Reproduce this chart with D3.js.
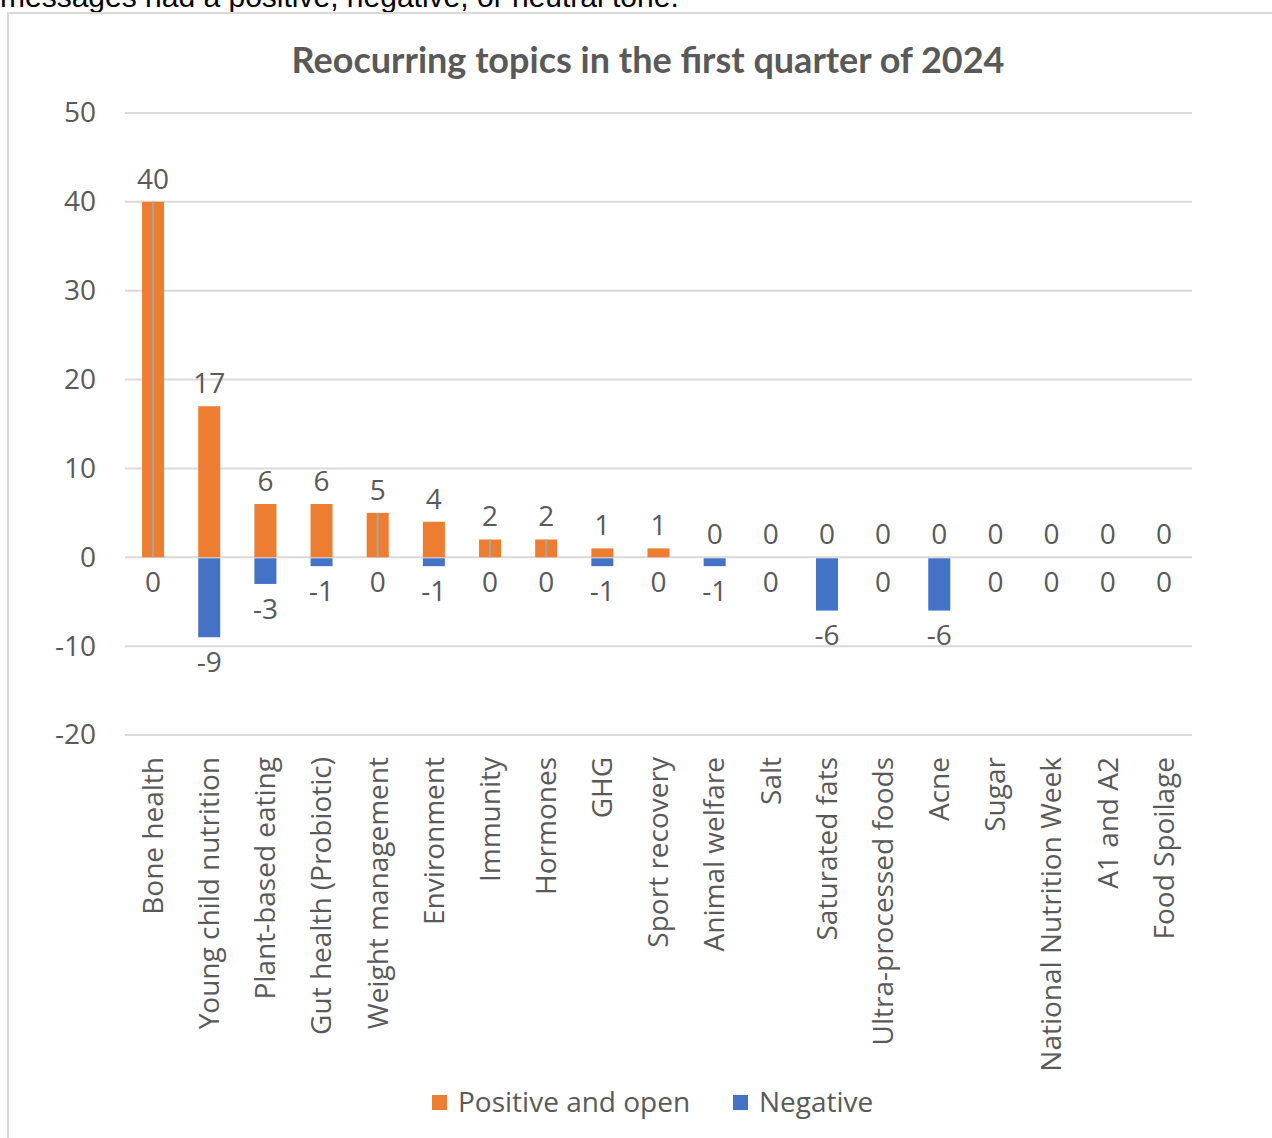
<!DOCTYPE html>
<html>
<head>
<meta charset="utf-8">
<script src="https://cdn.jsdelivr.net/npm/d3@7"></script>
<style>
  body { margin: 0; background: #fff; }
  svg { display: block; }
</style>
</head>
<body>
<svg class="s"></svg>
<script>
var categories = ['Bone health', 'Young child nutrition', 'Plant-based eating', 'Gut health (Probiotic)',
  'Weight management', 'Environment', 'Immunity', 'Hormones', 'GHG', 'Sport recovery',
  'Animal welfare', 'Salt', 'Saturated fats', 'Ultra-processed foods', 'Acne', 'Sugar',
  'National Nutrition Week', 'A1 and A2', 'Food Spoilage'];
var positive = [40, 17, 6, 6, 5, 4, 2, 2, 1, 1, 0, 0, 0, 0, 0, 0, 0, 0, 0];
var negative = [0, -9, -3, -1, 0, -1, 0, 0, -1, 0, -1, 0, -6, 0, -6, 0, 0, 0, 0];
// thin grey line seen inside these bars
var greyMarks = ['Bone health', 'Weight management', 'Immunity', 'Hormones'];
var yTicks = [-20, -10, 0, 10, 20, 30, 40, 50];
var seriesNames = ['Positive and open', 'Negative'];

var w = 1272;
var h = 1138;
var orange = '#ED7D31';
var blue = '#4472C4';
var textCol = '#595959';
var gridCol = '#D9D9D9';
var font = 'Open Sans, sans-serif';

var svg = d3.select('.s')
            .attr('width', w)
            .attr('height', h);

// leftover sentence from the page above the chart
svg.append('text')
   .attr('x', 0)
   .attr('y', 7)
   .attr('font-family', 'Liberation Sans, Arial, sans-serif')
   .attr('font-size', 30)
   .attr('fill', '#000')
   .text('messages had a positive, negative, or neutral tone.');

// chart frame
svg.append('rect')
   .attr('x', 8)
   .attr('y', 13)
   .attr('width', w + 20)
   .attr('height', h + 20)
   .attr('fill', 'none')
   .attr('stroke', gridCol)
   .attr('stroke-width', 2);

svg.append('text')
   .attr('x', 648)
   .attr('y', 73)
   .attr('text-anchor', 'middle')
   .attr('font-family', 'Lato, sans-serif')
   .attr('font-weight', 'bold')
   .attr('font-size', 36)
   .attr('fill', textCol)
   .text('Reocurring topics in the first quarter of 2024');

var x = d3.scaleBand()
          .domain(categories)
          .range([125, 1192])
          .paddingInner(0.608)
          .paddingOuter(0.304);

var y = d3.scaleLinear()
          .domain([-20, 50])
          .range([735, 113]);

// gridlines
svg.append('g')
   .selectAll('line')
   .data(yTicks)
   .enter()
   .append('line')
   .attr('x1', 125)
   .attr('x2', 1192)
   .attr('y1', function(d){ return y(d); })
   .attr('y2', function(d){ return y(d); })
   .attr('stroke', gridCol)
   .attr('stroke-width', 2);

// y tick labels
var yAxis = svg.append('g')
   .attr('transform', 'translate(96,0)')
   .call(d3.axisLeft(y).tickValues(yTicks).tickSize(0).tickPadding(0)
           .tickFormat(function(d){ return String(d); }));
yAxis.select('.domain').remove();
yAxis.selectAll('text')
     .attr('font-family', font)
     .attr('font-size', 28)
     .attr('fill', textCol);

var rows = categories.map(function(c, i){
  return {name: c, pos: positive[i], neg: negative[i]};
});

var bars = svg.append('g');

bars.selectAll('.pos')
    .data(rows)
    .enter()
    .append('rect')
    .attr('class', 'pos')
    .attr('x', function(d){ return x(d.name); })
    .attr('width', x.bandwidth())
    .attr('y', function(d){ return y(d.pos); })
    .attr('height', function(d){ return y(0) - y(d.pos); })
    .attr('fill', orange);

bars.selectAll('.neg')
    .data(rows)
    .enter()
    .append('rect')
    .attr('class', 'neg')
    .attr('x', function(d){ return x(d.name); })
    .attr('width', x.bandwidth())
    .attr('y', y(0) + 1)
    .attr('height', function(d){ return Math.max(0, y(d.neg) - y(0) - 1); })
    .attr('fill', blue);

bars.selectAll('.mark')
    .data(rows.filter(function(d){ return greyMarks.indexOf(d.name) >= 0; }))
    .enter()
    .append('line')
    .attr('x1', function(d){ return x(d.name) + x.bandwidth() / 2; })
    .attr('x2', function(d){ return x(d.name) + x.bandwidth() / 2; })
    .attr('y1', function(d){ return y(d.pos); })
    .attr('y2', y(0))
    .attr('stroke', '#A5A5A5')
    .attr('stroke-width', 2);

// data labels
var labels = svg.append('g')
   .attr('font-family', font)
   .attr('font-size', 28)
   .attr('fill', textCol)
   .attr('text-anchor', 'middle');

labels.selectAll('.lp')
      .data(rows)
      .enter()
      .append('text')
      .attr('x', function(d){ return x(d.name) + x.bandwidth() / 2; })
      .attr('y', function(d){ return y(d.pos) - 23; })
      .attr('dy', '0.35em')
      .text(function(d){ return d.pos; });

labels.selectAll('.ln')
      .data(rows)
      .enter()
      .append('text')
      .attr('x', function(d){ return x(d.name) + x.bandwidth() / 2; })
      .attr('y', function(d){ return y(d.neg) + 25; })
      .attr('dy', '0.35em')
      .text(function(d){ return d.neg; });

// category labels
var xAxis = svg.append('g')
   .attr('transform', 'translate(0,757)')
   .call(d3.axisBottom(x).tickSize(0).tickPadding(0));
xAxis.select('.domain').remove();
xAxis.selectAll('text')
     .attr('font-family', font)
     .attr('font-size', 28)
     .attr('fill', textCol)
     .attr('text-anchor', 'end')
     .attr('transform', 'rotate(-90)')
     .attr('x', 0)
     .attr('y', 0)
     .attr('dy', '0.35em');

// legend
var legend = svg.append('g')
   .attr('font-family', font)
   .attr('font-size', 28)
   .attr('fill', textCol);
var legendX = [432, 733];
var legendCol = [orange, blue];
seriesNames.forEach(function(name, i){
  legend.append('rect')
        .attr('x', legendX[i])
        .attr('y', 1095)
        .attr('width', 15)
        .attr('height', 15)
        .attr('fill', legendCol[i]);
  legend.append('text')
        .attr('x', legendX[i] + 26)
        .attr('y', 1102)
        .attr('dy', '0.35em')
        .text(name);
});
</script>
</body>
</html>
